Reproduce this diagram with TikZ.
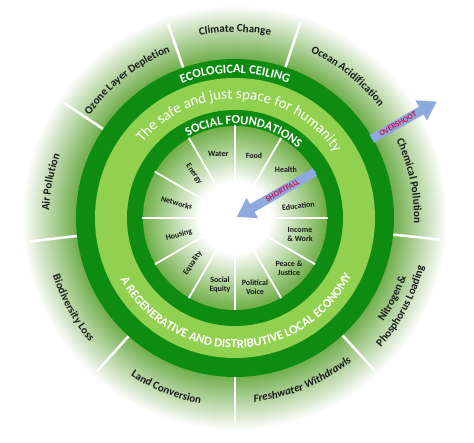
\documentclass[tikz,border=0pt]{standalone}
\usepackage{fontspec}
\setmainfont{Carlito}
\usetikzlibrary{decorations.text,arrows.meta}
\definecolor{darkring}{HTML}{0E8C12}
\definecolor{lightring}{HTML}{92D050}
\definecolor{ogA}{HTML}{74B050}
\definecolor{inD}{HTML}{72B04A}
\definecolor{arrowblue}{HTML}{8EA9DB}
\definecolor{arrowtext}{HTML}{D01050}
\definecolor{labtext}{HTML}{1A1A1A}
\newcommand\ArcTextTop[4]{%
  \pgfmathsetmacro\arcsa{#1+#3}\pgfmathsetmacro\arcea{#1-#3}%
  \path[decorate,decoration={text along path,text align=center,text={#4}}] (\arcsa:#2) arc[start angle=\arcsa,end angle=\arcea,radius=#2];}
\newcommand\ArcTextBot[4]{%
  \pgfmathsetmacro\arcsa{#1-#3}\pgfmathsetmacro\arcea{#1+#3}%
  \path[decorate,decoration={text along path,text align=center,text={#4}}] (\arcsa:#2) arc[start angle=\arcsa,end angle=\arcea,radius=#2];}
\newcommand\olab{\fontsize{11}{12}\selectfont\bfseries\color{labtext}}
\newcommand\olabit{\fontsize{11}{12}\selectfont\bfseries\itshape\color{labtext}}
\newcommand\ringcaps{\fontsize{12.5}{14}\selectfont\bfseries\color{white}}
\newcommand\ringbig{\fontsize{15}{17}\selectfont\color{white}}
\tikzset{
  inlab/.style={font=\fontsize{8}{9}\selectfont\bfseries, text=labtext, align=center, inner sep=0pt},
  outdiv/.style={draw=white, line width=2.5pt},
  indiv/.style={draw=white, line width=1.8pt},
  arrowline/.style={draw=arrowblue, line width=9pt, line cap=butt, -{Triangle[width=22pt,length=18pt]}},
  arrowlab/.style={font=\fontsize{8}{9}\selectfont\bfseries, text=arrowtext, inner sep=0pt}
}
\begin{document}
\begin{tikzpicture}[x=1pt,y=1pt]
\useasboundingbox (-235,-225) rectangle (239,218);
\fill[white] (-235,-225) rectangle (239,218);
% outer glow (concentric steps)
\foreach \r in {213,212,...,159}{
  \pgfmathsetmacro\p{min(100,max(0,(213-\r)*1.9))}
  \fill[ogA!\p!white] (0,0) circle[radius=\r pt];
}
% outer dividers
\foreach \a in {109,71.5,30,-6,-47.5,-90,-132,-173.5,146}
  \draw[outdiv] (\a:157pt) -- (\a:206pt);
% rings
\fill[darkring] (0,0) circle[radius=159pt];
\fill[lightring] (0,0) circle[radius=140pt];
\fill[darkring] (0,0) circle[radius=108pt];
% inner disc (concentric steps)
\foreach \r in {92,91,...,30}{
  \pgfmathsetmacro\p{min(100,max(0,(\r-36)*1.8))}
  \fill[inD!\p!white] (0,0) circle[radius=\r pt];
}
% inner dividers
\foreach \a in {0,30,...,330}
  \draw[indiv] (\a:30pt) -- (\a:92.5pt);
% ring texts
\ArcTextTop{90}{145pt}{60}{|\ringcaps|ECOLOGICAL CEILING}
\ArcTextTop{87}{119pt}{80}{|\ringbig|The safe and just space for humanity}
\ArcTextTop{84}{94pt}{70}{|\ringcaps|SOCIAL FOUNDATIONS}
\ArcTextBot{-89}{130pt}{80}{|\ringcaps|A REGENERATIVE AND DISTRIBUTIVE LOCAL ECONOMY}
% outer labels
\ArcTextTop{90}{186pt}{40}{|\olab|Climate Change}
\ArcTextTop{128}{178pt}{40}{|\olab|Ozone Layer Depletion}
\ArcTextTop{51.5}{182pt}{40}{|\olab|Ocean Acidification}
\ArcTextTop{12}{179pt}{40}{|\olab|Chemical Pollution}
\ArcTextTop{169}{186pt}{40}{|\olab|Air Pollution}
\ArcTextBot{-27}{181pt}{40}{|\olab|Nitrogen {\&}}
\ArcTextBot{-28}{195pt}{40}{|\olab|Phosphorus Loading}
\ArcTextBot{-67.5}{185pt}{40}{|\olabit|Freshwater Withdrawls}
\ArcTextBot{-112}{189pt}{40}{|\olab|Land Conversion}
\ArcTextBot{-151}{191pt}{40}{|\olab|Biodiversity Loss}
% inner labels
\node[inlab] (water) at (-16.7,63.7) {Water};
\node[inlab] (food) at (19,62.3) {Food};
\node[inlab] (health) at (51,48) {Health};
\node[inlab, rotate=7] (education) at (63.3,12) {Education};
\node[inlab] (income) at (65,-16) {Income\\\& Work};
\node[inlab] (peace) at (54,-50) {Peace \&\\Justice};
\node[inlab] (political) at (20,-69) {Political\\Voice};
\node[inlab] (social) at (-15,-67) {Social\\Equity};
\node[inlab, rotate=55] (equality) at (-42.3,-45) {Equality};
\node[inlab, rotate=15] (housing) at (-56,-17) {Housing};
\node[inlab, rotate=-15] (networks) at (-58.3,15) {Networks};
\node[inlab, rotate=-55] (energy) at (-41,44) {Energy};
% arrows
\coordinate (osA) at (30:158pt);
\coordinate (osB) at (30:233pt);
\draw[arrowline] (osA) -- (osB);
\node[arrowlab, rotate=30] (oslab) at (30:188pt) {OVERSHOOT};
\coordinate (sfA) at (30:92pt);
\coordinate (sfB) at (30:2pt);
\draw[arrowline] (sfA) -- (sfB);
\node[arrowlab, rotate=30] (sflab) at (30:55pt) {SHORTFALL};
\end{tikzpicture}
\end{document}
